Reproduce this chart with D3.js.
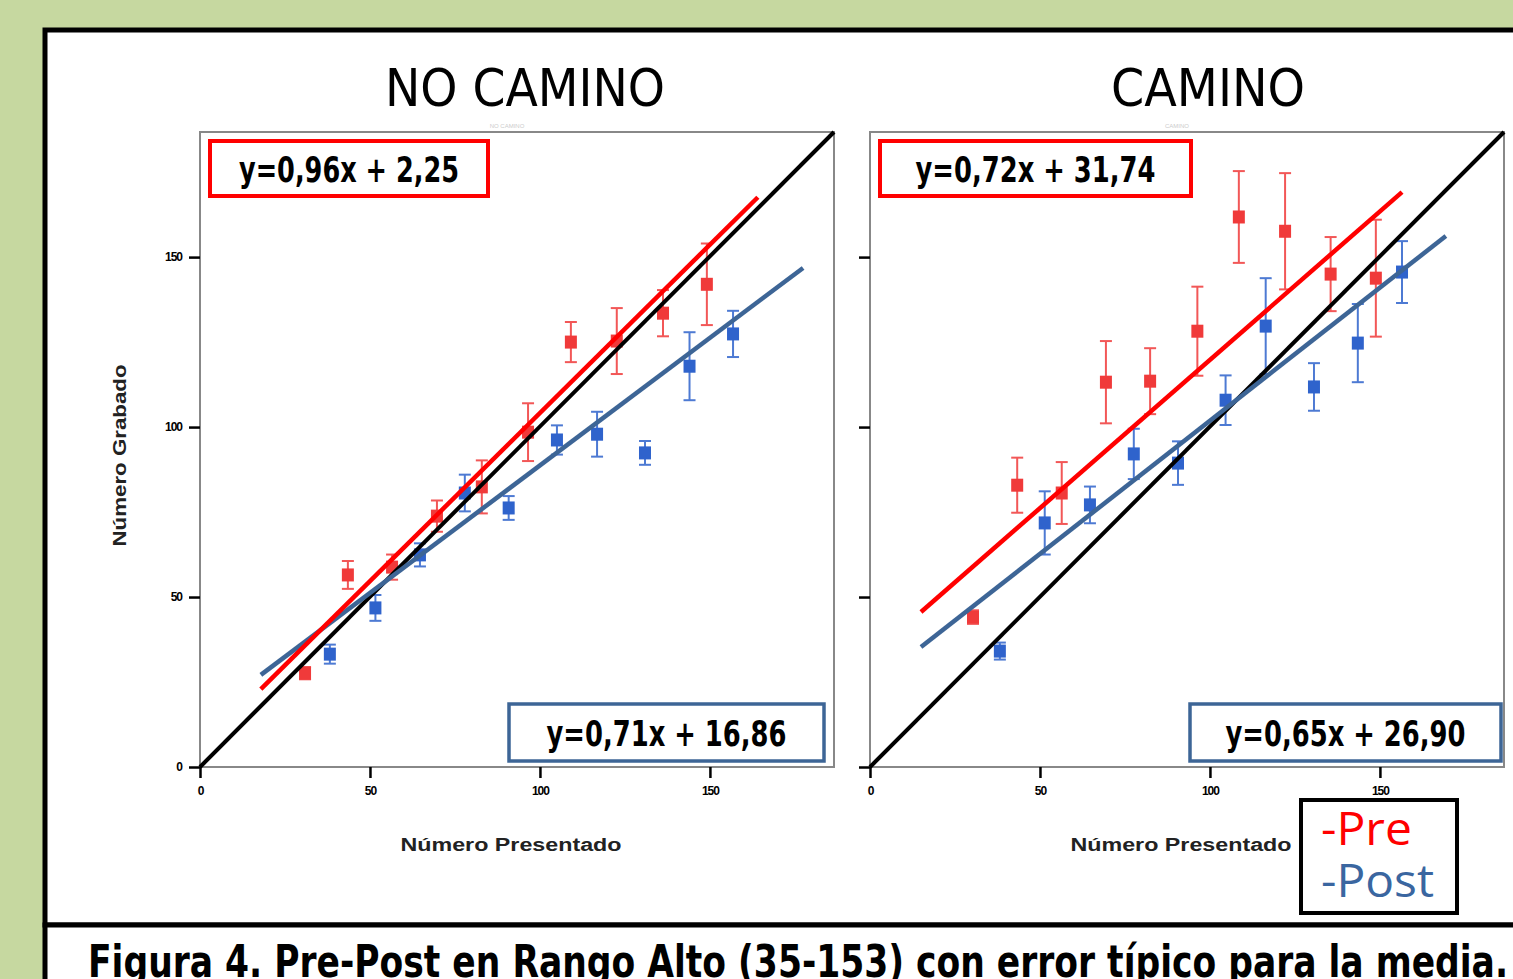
<!DOCTYPE html>
<html>
<head>
<meta charset="utf-8">
<script src="https://cdn.jsdelivr.net/npm/d3@7"></script>
<style>
  body { margin: 0; background: #c6d8a0; }
  svg { display: block; }
</style>
</head>
<body>
<svg id="chart" width="1513" height="979"></svg>
<script>
// panel titles and fitted equations (as printed on the figure)
var panels = ["NO CAMINO", "CAMINO"];
var preEquations = ["y=0,96x + 2,25", "y=0,72x + 31,74"];
var postEquations = ["y=0,71x + 16,86", "y=0,65x + 26,90"];
var tickValues = [0, 50, 100, 150];

// Pre (red) means +- standard error
var preX = [
  [30.9, 43.5, 56.5, 69.7, 82.9, 96.5, 109.1, 122.6, 136.2, 149.1],
  [30.3, 43.3, 56.4, 69.4, 82.4, 96.3, 108.5, 122.1, 135.5, 148.8]
];
var preY = [
  [27.6, 56.5, 58.8, 73.8, 82.4, 98.5, 125.0, 125.3, 133.5, 142.0],
  [44.1, 82.9, 80.6, 113.2, 113.5, 128.2, 161.8, 157.6, 145.0, 143.8]
];
var preErr = [
  [1.8, 4.1, 3.7, 4.6, 7.8, 8.5, 5.9, 9.7, 6.8, 12.0],
  [2.0, 8.1, 9.1, 12.1, 9.7, 13.1, 13.5, 17.1, 10.9, 17.2]
];

// Post (blue)
var postX = [
  [38.2, 51.6, 64.7, 77.9, 90.8, 105.0, 116.8, 130.9, 144.0, 156.8],
  [38.2, 51.4, 64.7, 77.6, 90.6, 104.6, 116.4, 130.6, 143.5, 156.5]
];
var postY = [
  [33.2, 46.8, 62.4, 80.6, 76.2, 96.2, 97.9, 92.4, 117.9, 127.4],
  [34.1, 71.8, 77.1, 92.1, 89.4, 107.9, 129.7, 111.8, 124.7, 145.6]
];
var postErr = [
  [2.8, 3.8, 3.4, 5.4, 3.5, 4.3, 6.6, 3.5, 10.0, 6.8],
  [2.5, 9.3, 5.4, 7.4, 6.4, 7.3, 14.1, 7.0, 11.5, 9.1]
];

// regression lines as drawn (end points)
var preLine = [
  [[17.9, 22.9], [164.1, 167.6]],
  [[15.0, 45.6], [156.5, 169.1]]
];
var postLine = [
  [[17.9, 27.1], [177.4, 146.8]],
  [[15.0, 35.3], [169.4, 156.2]]
];
var identity = [[0, 0], [186.5, 186.8]];

var RED = "#ff0000", RED_PT = "#f03a3a", BLUE = "#3d6596", BLUE_PT = "#2f63cc";
var svg = d3.select("#chart");

// outer panels
svg.append("rect").attr("x", 45).attr("y", 30).attr("width", 1500).attr("height", 895)
  .attr("fill", "#fff").attr("stroke", "#000").attr("stroke-width", 5);
svg.append("rect").attr("x", 45).attr("y", 925).attr("width", 1500).attr("height", 100)
  .attr("fill", "#fff").attr("stroke", "#000").attr("stroke-width", 5);

svg.append("text")
  .attr("x", 88).attr("y", 977)
  .attr("textLength", 1420).attr("lengthAdjust", "spacingAndGlyphs")
  .style("font-family", "'Liberation Sans Narrow', 'DejaVu Sans Condensed', sans-serif")
  .style("font-weight", "bold").style("font-size", "44px")
  .text("Figura 4. Pre-Post en Rango Alto (35-153) con error típico para la media.");

var W = 634, H = 635;
var x = d3.scaleLinear().domain([0, 186.5]).range([0, W]);
var y = d3.scaleLinear().domain([0, 186.8]).range([H, 0]);
var line = d3.line().x(d => x(d[0])).y(d => y(d[1]));

var offsets = [200, 870];
var titleCenters = [525, 1208], titleWidths = [280, 194];

panels.forEach(function(name, i) {
  var g = svg.append("g").attr("transform", "translate(" + offsets[i] + ",132)");

  svg.append("text")
    .attr("x", titleCenters[i]).attr("y", 106).attr("text-anchor", "middle")
    .attr("textLength", titleWidths[i]).attr("lengthAdjust", "spacingAndGlyphs")
    .style("font-family", "'Liberation Sans Narrow', 'DejaVu Sans Condensed', sans-serif")
    .style("font-size", "52px")
    .text(name);

  // faint original subtitle
  g.append("text").attr("x", W / 2 - 10).attr("y", -4).attr("text-anchor", "middle")
    .style("font-family", "Arial, sans-serif").style("font-size", "6px").attr("fill", "#ccc")
    .text(name);

  g.append("rect").attr("width", W).attr("height", H)
    .attr("fill", "#fff").attr("stroke", "#888").attr("stroke-width", 2);

  var yAxis = g.append("g").call(d3.axisLeft(y).tickValues(tickValues).tickSize(11).tickPadding(7)
    .tickFormat(i === 0 ? d3.format("d") : ""));
  var xAxis = g.append("g").attr("transform", "translate(0," + H + ")")
    .call(d3.axisBottom(x).tickValues(tickValues).tickSize(11).tickPadding(8));
  [xAxis, yAxis].forEach(function(a) {
    a.select(".domain").remove();
    a.selectAll("line").attr("stroke", "#000").attr("stroke-width", 2.5);
    a.selectAll("text").style("font-family", "Arial, sans-serif").style("font-size", "12px")
      .style("font-weight", "bold").style("letter-spacing", "-1px").attr("fill", "#000");
  });

  g.append("text")
    .attr("x", W / 2 - 6).attr("y", 719).attr("text-anchor", "middle")
    .attr("textLength", 221).attr("lengthAdjust", "spacingAndGlyphs")
    .style("font-family", "Arial, sans-serif").style("font-weight", "bold").style("font-size", "18px")
    .attr("fill", "#222")
    .text("Número Presentado");
  if (i === 0) {
    g.append("text")
      .attr("transform", "translate(-74," + (H / 2 + 6) + ") rotate(-90)")
      .attr("text-anchor", "middle")
      .attr("textLength", 182).attr("lengthAdjust", "spacingAndGlyphs")
      .style("font-family", "Arial, sans-serif").style("font-weight", "bold").style("font-size", "18px")
      .attr("fill", "#222")
      .text("Número Grabado");
  }

  // error bars + markers
  function series(xs, ys, es, col) {
    var pts = xs.map((v, k) => ({x: v, y: ys[k], e: es[k]}));
    var eb = g.append("g").attr("stroke", col).attr("stroke-width", 2).attr("opacity", 0.85);
    pts.forEach(function(p) {
      eb.append("line").attr("x1", x(p.x)).attr("x2", x(p.x)).attr("y1", y(p.y + p.e)).attr("y2", y(p.y - p.e));
      eb.append("line").attr("x1", x(p.x) - 6).attr("x2", x(p.x) + 6).attr("y1", y(p.y + p.e)).attr("y2", y(p.y + p.e));
      eb.append("line").attr("x1", x(p.x) - 6).attr("x2", x(p.x) + 6).attr("y1", y(p.y - p.e)).attr("y2", y(p.y - p.e));
    });
    g.append("g").selectAll("rect").data(pts).join("rect")
      .attr("x", d => x(d.x) - 6).attr("y", d => y(d.y) - 6.5)
      .attr("width", 12).attr("height", 13).attr("fill", col);
  }
  series(preX[i], preY[i], preErr[i], RED_PT);
  series(postX[i], postY[i], postErr[i], BLUE_PT);

  g.append("path").datum(identity).attr("d", line).attr("stroke", "#000").attr("stroke-width", 4).attr("fill", "none");
  g.append("path").datum(postLine[i]).attr("d", line).attr("stroke", BLUE).attr("stroke-width", 4.5).attr("fill", "none");
  g.append("path").datum(preLine[i]).attr("d", line).attr("stroke", RED).attr("stroke-width", 4.5).attr("fill", "none");

  // equation boxes
  var preW = i === 0 ? 278 : 311;
  g.append("rect").attr("x", 10).attr("y", 9).attr("width", preW).attr("height", 55)
    .attr("fill", "#fff").attr("stroke", RED).attr("stroke-width", 4);
  g.append("text").attr("x", 10 + preW / 2).attr("y", 50).attr("text-anchor", "middle")
    .attr("textLength", i === 0 ? 220 : 240).attr("lengthAdjust", "spacingAndGlyphs")
    .style("font-family", "'Liberation Sans Narrow', 'DejaVu Sans Condensed', sans-serif")
    .style("font-weight", "bold").style("font-size", "35px")
    .text(preEquations[i]);

  var bx = i === 0 ? 309 : 320, bw = i === 0 ? 315 : 311;
  g.append("rect").attr("x", bx).attr("y", 572).attr("width", bw).attr("height", 57)
    .attr("fill", "#fff").attr("stroke", BLUE).attr("stroke-width", 3.5);
  g.append("text").attr("x", bx + bw / 2).attr("y", 614).attr("text-anchor", "middle")
    .attr("textLength", 240).attr("lengthAdjust", "spacingAndGlyphs")
    .style("font-family", "'Liberation Sans Narrow', 'DejaVu Sans Condensed', sans-serif")
    .style("font-weight", "bold").style("font-size", "35px")
    .text(postEquations[i]);
});

// legend
var leg = svg.append("g");
leg.append("rect").attr("x", 1301).attr("y", 800).attr("width", 156).attr("height", 113)
  .attr("fill", "#fff").attr("stroke", "#000").attr("stroke-width", 4);
[["-Pre", RED, 845, 91], ["-Post", "#3a66a0", 897, 113]].forEach(function(d) {
  leg.append("text").attr("x", 1321).attr("y", d[2])
    .attr("textLength", d[3]).attr("lengthAdjust", "spacingAndGlyphs")
    .style("font-family", "'Open Sans', sans-serif").style("font-size", "46px")
    .attr("fill", d[1]).text(d[0]);
});
</script>
</body>
</html>
